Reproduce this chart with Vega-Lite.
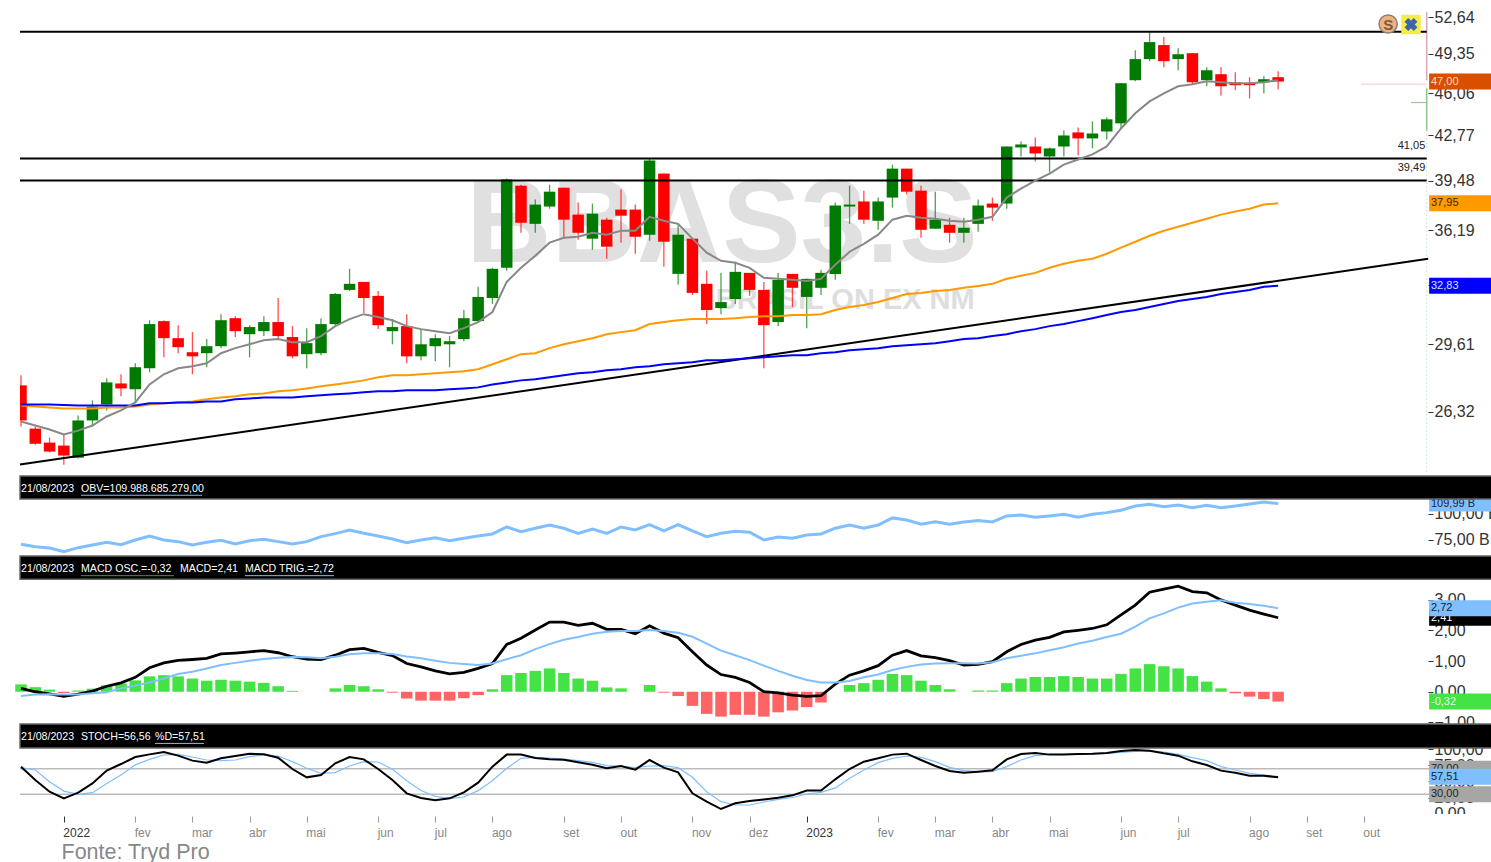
{"$schema":"https://vega.github.io/schema/vega-lite/v6.json","background":"white","padding":{"left":15,"top":0,"right":0,"bottom":0},"bounds":"flush","spacing":0,
"config":{"view":{"stroke":null},"axis":{"grid":false,"domain":false,"labelFont":"Liberation Sans","labelFontSize":16,"labelColor":"#333","tickColor":"#333","tickSize":5,"labelPadding":1,"labelOverlap":false,"labelFlush":false},"text":{"font":"Liberation Sans"}},
"datasets":{"weeks":[
{"w":0,"o":27.56,"h":28.05,"l":25.63,"c":25.91,"ma":25.86,"mo":26.6,"mb":26.65,"obv":70.9,"macd":0.11,"trig":-0.14,"osc":0.24,"st":73.2,"d":71.6},
{"w":1,"o":25.54,"h":25.63,"l":24.83,"c":24.87,"ma":25.68,"mo":26.55,"mb":26.65,"obv":68.6,"macd":0,"trig":-0.09,"osc":0.15,"st":52.3,"d":68},
{"w":2,"o":24.92,"h":25.14,"l":24.49,"c":24.53,"ma":25.5,"mo":26.51,"mb":26.65,"obv":67.3,"macd":-0.07,"trig":-0.08,"osc":0.07,"st":34,"d":49.7},
{"w":3,"o":24.79,"h":25.32,"l":23.97,"c":24.36,"ma":25.28,"mo":26.46,"mb":26.62,"obv":63.8,"macd":-0.15,"trig":-0.09,"osc":-0.04,"st":23.7,"d":35},
{"w":4,"o":24.27,"h":26.14,"l":24.23,"c":25.91,"ma":25.45,"mo":26.46,"mb":26.6,"obv":67.6,"macd":-0.08,"trig":-0.09,"osc":0.04,"st":32.6,"d":30},
{"w":5,"o":25.91,"h":26.84,"l":25.63,"c":26.55,"ma":25.68,"mo":26.46,"mb":26.6,"obv":70.2,"macd":0.02,"trig":-0.05,"osc":0.1,"st":47,"d":32.6},
{"w":6,"o":26.65,"h":27.9,"l":26.37,"c":27.7,"ma":26.09,"mo":26.51,"mb":26.6,"obv":72.8,"macd":0.18,"trig":-0.02,"osc":0.21,"st":67,"d":47},
{"w":7,"o":27.65,"h":28.1,"l":27.03,"c":27.41,"ma":26.37,"mo":26.51,"mb":26.6,"obv":70.5,"macd":0.29,"trig":0.11,"osc":0.27,"st":77.3,"d":60},
{"w":8,"o":27.37,"h":28.65,"l":26.7,"c":28.45,"ma":26.74,"mo":26.55,"mb":26.6,"obv":75,"macd":0.47,"trig":0.2,"osc":0.37,"st":88.3,"d":76},
{"w":9,"o":28.4,"h":30.9,"l":28.2,"c":30.69,"ma":27.6,"mo":26.65,"mb":26.7,"obv":78.8,"macd":0.78,"trig":0.3,"osc":0.5,"st":92.4,"d":84.6},
{"w":10,"o":30.85,"h":30.9,"l":28.95,"c":29.94,"ma":28.1,"mo":26.7,"mb":26.7,"obv":75,"macd":0.94,"trig":0.43,"osc":0.54,"st":96,"d":91.4},
{"w":11,"o":29.94,"h":30.63,"l":29.16,"c":29.47,"ma":28.4,"mo":26.74,"mb":26.74,"obv":73.4,"macd":1.02,"trig":0.58,"osc":0.5,"st":90.4,"d":92.4},
{"w":12,"o":29.21,"h":30.26,"l":28.1,"c":29,"ma":28.5,"mo":26.79,"mb":26.74,"obv":70.2,"macd":1.05,"trig":0.65,"osc":0.43,"st":82.6,"d":88.3},
{"w":13,"o":29.16,"h":29.89,"l":28.45,"c":29.52,"ma":28.65,"mo":26.89,"mb":26.79,"obv":72.8,"macd":1.09,"trig":0.76,"osc":0.36,"st":79.4,"d":83.6},
{"w":14,"o":29.52,"h":31.23,"l":29.42,"c":30.9,"ma":29.16,"mo":26.98,"mb":26.79,"obv":74.7,"macd":1.23,"trig":0.87,"osc":0.39,"st":86.2,"d":82.6},
{"w":15,"o":31.01,"h":31.12,"l":30,"c":30.31,"ma":29.42,"mo":27.03,"mb":26.89,"obv":71.2,"macd":1.26,"trig":0.94,"osc":0.36,"st":89.8,"d":83.6},
{"w":16,"o":30.15,"h":30.63,"l":28.95,"c":30.53,"ma":29.62,"mo":27.13,"mb":26.93,"obv":74.3,"macd":1.3,"trig":1.01,"osc":0.33,"st":93.5,"d":88.8},
{"w":17,"o":30.31,"h":31.12,"l":30.05,"c":30.8,"ma":29.83,"mo":27.17,"mb":26.98,"obv":75.7,"macd":1.34,"trig":1.07,"osc":0.29,"st":92.4,"d":91.4},
{"w":18,"o":30.8,"h":32.13,"l":29.94,"c":30.05,"ma":29.89,"mo":27.27,"mb":26.98,"obv":73.4,"macd":1.27,"trig":1.11,"osc":0.18,"st":87.2,"d":89.8},
{"w":19,"o":30,"h":30.58,"l":28.9,"c":29,"ma":29.73,"mo":27.32,"mb":26.98,"obv":71.2,"macd":1.14,"trig":1.13,"osc":0.03,"st":69.5,"d":81},
{"w":20,"o":29.11,"h":30.47,"l":28.4,"c":29.68,"ma":29.73,"mo":27.41,"mb":27.03,"obv":73.4,"macd":1.06,"trig":1.12,"osc":0,"st":56.5,"d":70.6},
{"w":21,"o":29.16,"h":31.01,"l":29.06,"c":30.69,"ma":30.05,"mo":27.51,"mb":27.08,"obv":78.2,"macd":1.05,"trig":1.09,"osc":0,"st":60.2,"d":62.8},
{"w":22,"o":30.69,"h":32.42,"l":30.63,"c":32.36,"ma":30.58,"mo":27.6,"mb":27.13,"obv":81.1,"macd":1.19,"trig":1.14,"osc":0.11,"st":78.4,"d":64},
{"w":23,"o":32.59,"h":33.82,"l":32.53,"c":32.94,"ma":30.96,"mo":27.7,"mb":27.17,"obv":84.6,"macd":1.37,"trig":1.22,"osc":0.22,"st":88.3,"d":74.2},
{"w":24,"o":33.05,"h":33.05,"l":31.29,"c":32.13,"ma":31.23,"mo":27.8,"mb":27.22,"obv":81.4,"macd":1.41,"trig":1.25,"osc":0.18,"st":84.6,"d":81},
{"w":25,"o":32.25,"h":32.53,"l":30.42,"c":30.63,"ma":31.07,"mo":27.95,"mb":27.27,"obv":78.8,"macd":1.28,"trig":1.25,"osc":0.08,"st":69.5,"d":80.5},
{"w":26,"o":30.31,"h":30.96,"l":29.62,"c":30.53,"ma":30.9,"mo":28.05,"mb":27.27,"obv":76,"macd":1.18,"trig":1.23,"osc":-0.03,"st":52.3,"d":69},
{"w":27,"o":30.58,"h":31.23,"l":28.65,"c":29,"ma":30.58,"mo":28.05,"mb":27.32,"obv":72.4,"macd":0.92,"trig":1.15,"osc":-0.22,"st":31.5,"d":51.3},
{"w":28,"o":29,"h":30.42,"l":28.8,"c":29.62,"ma":30.42,"mo":28.1,"mb":27.32,"obv":75,"macd":0.81,"trig":1.09,"osc":-0.29,"st":24.2,"d":36},
{"w":29,"o":29.52,"h":30.15,"l":28.75,"c":29.94,"ma":30.31,"mo":28.15,"mb":27.32,"obv":77.2,"macd":0.68,"trig":1.01,"osc":-0.29,"st":20.6,"d":26.8},
{"w":30,"o":29.62,"h":30.05,"l":28.45,"c":29.78,"ma":30.2,"mo":28.2,"mb":27.37,"obv":74.3,"macd":0.58,"trig":0.94,"osc":-0.29,"st":23.7,"d":23.2},
{"w":31,"o":29.89,"h":31.46,"l":29.78,"c":31.01,"ma":30.47,"mo":28.25,"mb":27.41,"obv":76.6,"macd":0.63,"trig":0.9,"osc":-0.21,"st":33,"d":25.8},
{"w":32,"o":30.85,"h":32.77,"l":30.8,"c":32.19,"ma":30.8,"mo":28.35,"mb":27.46,"obv":78.8,"macd":0.76,"trig":0.87,"osc":-0.11,"st":48.2,"d":35.7},
{"w":33,"o":32.13,"h":33.88,"l":31.79,"c":33.82,"ma":31.35,"mo":28.6,"mb":27.6,"obv":80.8,"macd":0.92,"trig":0.92,"osc":0.08,"st":73.2,"d":51.3},
{"w":34,"o":33.88,"h":39.63,"l":33.7,"c":39.56,"ma":33.05,"mo":28.85,"mb":27.7,"obv":87.5,"macd":1.54,"trig":1.06,"osc":0.54,"st":92,"d":70.6},
{"w":35,"o":39.14,"h":39.21,"l":36.03,"c":36.67,"ma":33.88,"mo":29.11,"mb":27.8,"obv":83,"macd":1.74,"trig":1.19,"osc":0.61,"st":92,"d":86.2},
{"w":36,"o":36.6,"h":38.2,"l":36.03,"c":37.86,"ma":34.61,"mo":29.16,"mb":27.85,"obv":86.3,"macd":2.01,"trig":1.39,"osc":0.68,"st":86.7,"d":87.8},
{"w":37,"o":37.73,"h":39.21,"l":37.59,"c":38.73,"ma":35.41,"mo":29.42,"mb":27.95,"obv":89.4,"macd":2.27,"trig":1.55,"osc":0.76,"st":84.6,"d":86.7},
{"w":38,"o":39,"h":39,"l":35.66,"c":36.87,"ma":35.72,"mo":29.62,"mb":28.05,"obv":86.3,"macd":2.27,"trig":1.69,"osc":0.61,"st":84,"d":85},
{"w":39,"o":37.2,"h":38,"l":35.59,"c":36.03,"ma":35.78,"mo":29.78,"mb":28.15,"obv":81.4,"macd":2.16,"trig":1.78,"osc":0.43,"st":80,"d":82.6},
{"w":40,"o":35.66,"h":37.93,"l":34.97,"c":37.26,"ma":36.03,"mo":29.94,"mb":28.2,"obv":85.6,"macd":2.23,"trig":1.89,"osc":0.36,"st":76.3,"d":80},
{"w":41,"o":36.87,"h":37,"l":34.42,"c":35.16,"ma":35.91,"mo":30.15,"mb":28.3,"obv":81.4,"macd":2.03,"trig":1.95,"osc":0.14,"st":70.6,"d":74.7},
{"w":42,"o":37.53,"h":38.87,"l":35.41,"c":37.13,"ma":36.16,"mo":30.26,"mb":28.35,"obv":87.5,"macd":2.03,"trig":1.98,"osc":0.11,"st":74.2,"d":73.7},
{"w":43,"o":37.53,"h":37.86,"l":34.73,"c":35.78,"ma":36.16,"mo":30.36,"mb":28.45,"obv":84.6,"macd":1.89,"trig":1.98,"osc":0,"st":68.5,"d":71.6},
{"w":44,"o":35.91,"h":41.05,"l":35.53,"c":40.91,"ma":37.06,"mo":30.69,"mb":28.5,"obv":89.7,"macd":2.15,"trig":2.01,"osc":0.22,"st":83.6,"d":74.2},
{"w":45,"o":39.98,"h":39.98,"l":33.94,"c":35.47,"ma":36.8,"mo":30.8,"mb":28.6,"obv":83.7,"macd":1.91,"trig":1.98,"osc":-0.03,"st":71.6,"d":74.7},
{"w":46,"o":33.52,"h":36.6,"l":32.88,"c":35.91,"ma":36.6,"mo":30.9,"mb":28.65,"obv":89.7,"macd":1.76,"trig":1.92,"osc":-0.14,"st":64.3,"d":71.6},
{"w":47,"o":35.66,"h":35.66,"l":32.3,"c":32.42,"ma":35.66,"mo":30.96,"mb":28.7,"obv":83.7,"macd":1.3,"trig":1.79,"osc":-0.46,"st":31.5,"d":56.5},
{"w":48,"o":32.94,"h":33.7,"l":30.69,"c":31.46,"ma":34.79,"mo":30.96,"mb":28.8,"obv":78.2,"macd":0.87,"trig":1.57,"osc":-0.72,"st":18.5,"d":34},
{"w":49,"o":31.57,"h":33.58,"l":31.23,"c":31.9,"ma":34.3,"mo":30.96,"mb":28.8,"obv":81.4,"macd":0.56,"trig":1.34,"osc":-0.81,"st":7,"d":18.5},
{"w":50,"o":32.07,"h":34.24,"l":31.79,"c":33.64,"ma":34.18,"mo":31.01,"mb":28.85,"obv":83.4,"macd":0.47,"trig":1.19,"osc":-0.75,"st":15.9,"d":13.3},
{"w":51,"o":33.58,"h":33.58,"l":32.25,"c":32.59,"ma":33.88,"mo":31.07,"mb":28.9,"obv":82.4,"macd":0.3,"trig":1.03,"osc":-0.75,"st":19.5,"d":13.3},
{"w":52,"o":32.59,"h":33.05,"l":28.4,"c":30.63,"ma":33.29,"mo":31.12,"mb":28.95,"obv":75,"macd":0,"trig":0.85,"osc":-0.81,"st":22,"d":18},
{"w":53,"o":30.8,"h":33.58,"l":30.58,"c":33.17,"ma":33.23,"mo":31.12,"mb":29,"obv":77.9,"macd":-0.04,"trig":0.68,"osc":-0.67,"st":24.7,"d":22},
{"w":54,"o":33.52,"h":33.52,"l":31.62,"c":32.71,"ma":33.17,"mo":31.18,"mb":29.06,"obv":76.6,"macd":-0.11,"trig":0.52,"osc":-0.61,"st":28.4,"d":25},
{"w":55,"o":32.19,"h":33.23,"l":30.47,"c":33.23,"ma":33.11,"mo":31.18,"mb":29.06,"obv":79.8,"macd":-0.15,"trig":0.38,"osc":-0.5,"st":36,"d":30.5},
{"w":56,"o":32.71,"h":33.76,"l":32.3,"c":33.58,"ma":33.23,"mo":31.23,"mb":29.16,"obv":80.8,"macd":-0.13,"trig":0.3,"osc":-0.35,"st":36,"d":33},
{"w":57,"o":33.52,"h":38,"l":33.17,"c":37.8,"ma":34.06,"mo":31.46,"mb":29.21,"obv":86.3,"macd":0.25,"trig":0.3,"osc":0,"st":53.4,"d":40},
{"w":58,"o":37.73,"h":39.14,"l":36.6,"c":37.86,"ma":34.85,"mo":31.62,"mb":29.31,"obv":89.4,"macd":0.54,"trig":0.35,"osc":0.22,"st":69.5,"d":55},
{"w":59,"o":38.07,"h":38.8,"l":36.6,"c":36.87,"ma":35.34,"mo":31.74,"mb":29.36,"obv":86.3,"macd":0.68,"trig":0.47,"osc":0.28,"st":81,"d":68},
{"w":60,"o":36.8,"h":38.33,"l":36.22,"c":38.07,"ma":35.91,"mo":31.9,"mb":29.42,"obv":89.4,"macd":0.85,"trig":0.56,"osc":0.39,"st":86.2,"d":79.4},
{"w":61,"o":38.33,"h":40.62,"l":37.66,"c":40.33,"ma":36.87,"mo":32.13,"mb":29.52,"obv":96.2,"macd":1.19,"trig":0.71,"osc":0.58,"st":92,"d":86.2},
{"w":62,"o":40.33,"h":40.33,"l":38.53,"c":38.73,"ma":37.13,"mo":32.36,"mb":29.57,"obv":94.2,"macd":1.34,"trig":0.81,"osc":0.54,"st":93.5,"d":89.8},
{"w":63,"o":38.8,"h":39.14,"l":35.72,"c":36.22,"ma":37,"mo":32.42,"mb":29.62,"obv":90.1,"macd":1.17,"trig":0.89,"osc":0.36,"st":83.6,"d":87.8},
{"w":64,"o":36.29,"h":38.73,"l":36.29,"c":36.87,"ma":36.93,"mo":32.53,"mb":29.68,"obv":92.6,"macd":1.11,"trig":0.92,"osc":0.22,"st":74.2,"d":81},
{"w":65,"o":36.54,"h":37,"l":35.41,"c":36.03,"ma":36.8,"mo":32.59,"mb":29.78,"obv":90.1,"macd":1.01,"trig":0.93,"osc":0.08,"st":66.4,"d":72},
{"w":66,"o":36.03,"h":37,"l":35.41,"c":36.35,"ma":36.73,"mo":32.71,"mb":29.89,"obv":92.3,"macd":0.87,"trig":0.93,"osc":0,"st":63.8,"d":67},
{"w":67,"o":36.6,"h":38.2,"l":36.1,"c":37.8,"ma":36.87,"mo":32.82,"mb":29.94,"obv":93.8,"macd":0.89,"trig":0.92,"osc":0.04,"st":65.4,"d":65.4},
{"w":68,"o":37.93,"h":38.33,"l":36.8,"c":37.66,"ma":37.06,"mo":32.94,"mb":30.05,"obv":92.3,"macd":0.98,"trig":0.96,"osc":0.04,"st":67.4,"d":65.4},
{"w":69,"o":37.93,"h":41.93,"l":37.59,"c":41.93,"ma":38.33,"mo":33.23,"mb":30.15,"obv":98.1,"macd":1.3,"trig":1.09,"osc":0.28,"st":84.6,"d":73.2},
{"w":70,"o":41.86,"h":42.3,"l":41.2,"c":42.08,"ma":38.94,"mo":33.41,"mb":30.31,"obv":99,"macd":1.54,"trig":1.17,"osc":0.43,"st":93,"d":83.6},
{"w":71,"o":41.93,"h":42.6,"l":40.84,"c":41.42,"ma":39.49,"mo":33.58,"mb":30.42,"obv":96.8,"macd":1.68,"trig":1.25,"osc":0.48,"st":94.5,"d":90.4},
{"w":72,"o":41.2,"h":41.86,"l":40.05,"c":41.79,"ma":39.98,"mo":33.88,"mb":30.58,"obv":98.1,"macd":1.77,"trig":1.35,"osc":0.48,"st":92,"d":92.4},
{"w":73,"o":41.93,"h":43.13,"l":41.2,"c":42.75,"ma":40.62,"mo":34.12,"mb":30.69,"obv":99.7,"macd":1.95,"trig":1.45,"osc":0.51,"st":92,"d":92.4},
{"w":74,"o":42.98,"h":43.36,"l":41.27,"c":42.53,"ma":40.98,"mo":34.3,"mb":30.85,"obv":96.8,"macd":2,"trig":1.57,"osc":0.48,"st":93,"d":92.4},
{"w":75,"o":42.53,"h":43.82,"l":41.79,"c":42.9,"ma":41.35,"mo":34.42,"mb":31.01,"obv":99.7,"macd":2.06,"trig":1.66,"osc":0.43,"st":93.5,"d":93},
{"w":76,"o":43.05,"h":44.13,"l":42.45,"c":43.98,"ma":41.93,"mo":34.73,"mb":31.18,"obv":101.3,"macd":2.18,"trig":1.78,"osc":0.43,"st":94.5,"d":94},
{"w":77,"o":43.67,"h":46.86,"l":43.28,"c":46.86,"ma":43.28,"mo":35.1,"mb":31.35,"obv":103.6,"macd":2.5,"trig":1.89,"osc":0.58,"st":97.7,"d":95.6},
{"w":78,"o":47.11,"h":49.66,"l":47.03,"c":48.89,"ma":44.45,"mo":35.47,"mb":31.46,"obv":107.7,"macd":2.82,"trig":2.12,"osc":0.76,"st":99.2,"d":97},
{"w":79,"o":48.89,"h":51.27,"l":48.71,"c":50.37,"ma":45.39,"mo":35.84,"mb":31.62,"obv":109.3,"macd":3.24,"trig":2.39,"osc":0.9,"st":98.2,"d":97.7},
{"w":80,"o":50.11,"h":50.82,"l":48.19,"c":48.71,"ma":46.03,"mo":36.16,"mb":31.79,"obv":107,"macd":3.34,"trig":2.55,"osc":0.83,"st":94,"d":96},
{"w":81,"o":48.89,"h":49.84,"l":47.94,"c":49.31,"ma":46.61,"mo":36.41,"mb":31.96,"obv":108.7,"macd":3.44,"trig":2.74,"osc":0.76,"st":90.4,"d":92.4},
{"w":82,"o":49.4,"h":49.4,"l":46.78,"c":46.94,"ma":46.78,"mo":36.67,"mb":32.07,"obv":106.1,"macd":3.26,"trig":2.87,"osc":0.51,"st":81.5,"d":87.2},
{"w":83,"o":47.11,"h":48.19,"l":46.61,"c":47.94,"ma":47.03,"mo":36.93,"mb":32.19,"obv":108.4,"macd":3.22,"trig":2.93,"osc":0.33,"st":75.8,"d":82.6},
{"w":84,"o":47.61,"h":48.19,"l":45.87,"c":46.61,"ma":46.94,"mo":37.2,"mb":32.36,"obv":106.1,"macd":2.99,"trig":2.98,"osc":0.11,"st":67,"d":73.2},
{"w":85,"o":46.94,"h":47.77,"l":46.28,"c":46.7,"ma":46.86,"mo":37.4,"mb":32.47,"obv":107.7,"macd":2.82,"trig":2.9,"osc":-0.05,"st":63.8,"d":68},
{"w":86,"o":46.86,"h":47.36,"l":45.63,"c":46.7,"ma":46.86,"mo":37.59,"mb":32.59,"obv":109.6,"macd":2.66,"trig":2.86,"osc":-0.16,"st":59,"d":62.8},
{"w":87,"o":46.94,"h":47.44,"l":46.04,"c":47.19,"ma":46.94,"mo":37.86,"mb":32.77,"obv":111.5,"macd":2.53,"trig":2.8,"osc":-0.24,"st":59,"d":60.2},
{"w":88,"o":47.36,"h":47.85,"l":46.36,"c":47,"ma":47.11,"mo":37.95,"mb":32.83,"obv":109.99,"macd":2.41,"trig":2.72,"osc":-0.32,"st":56.56,"d":57.51}
]},
"vconcat":[
{"width":1471,"height":476,"encoding":{"x":{"field":"w","type":"quantitative","scale":{"domain":[-0.07,102.9],"nice":false,"zero":false,"padding":0},"axis":null},"y":{"field":"p","type":"quantitative","title":null,"scale":{"type":"log","domain":[23.5,54.24],"nice":false},"axis":{"title":null,"orient":"right","offset":-63,"values":[52.64,49.35,46.06,42.77,39.48,36.19,32.9,29.61,26.32],"labelExpr":"replace(format(datum.value,'.2f'),'.',',')"}}},
"layer":[
{"data":{"values":[{"w":49.07,"p":36.41,"t":"BBAS3.S"}]},"mark":{"type":"text","fontSize":118,"fontWeight":"bold","color":"#e0e0e0","align":"center","baseline":"middle"},"encoding":{"text":{"field":"t"}}},
{"data":{"values":[{"w":57.7,"p":32,"t":"BRASIL ON EX NM"}]},"mark":{"type":"text","fontSize":29,"fontWeight":"bold","color":"#dedede","align":"center","baseline":"middle"},"encoding":{"text":{"field":"t"}}},
{"data":{"values":[{"w":98.4,"p":53.1,"b":47.11}]},"mark":{"type":"rule","color":"#d8a8b4","strokeWidth":1.5},"encoding":{"y2":{"field":"b"}}},
{"data":{"values":[{"w":98.4,"p":46.44,"b":43.13}]},"mark":{"type":"rule","color":"#8cc48c","strokeWidth":1.5},"encoding":{"y2":{"field":"b"}}},
{"data":{"values":[{"w":98.4,"p":43.13,"b":23.6}]},"mark":{"type":"rule","color":"#a8d8a8","strokeWidth":1.2,"strokeDash":[1,3]},"encoding":{"y2":{"field":"b"}}},
{"data":{"values":[{"w":93.8,"w2":98.4,"p":46.78}]},"mark":{"type":"rule","color":"#f8dfe4","strokeWidth":2},"encoding":{"x2":{"field":"w2"}}},
{"data":{"values":[{"w":97.3,"w2":98.4,"p":45.29}]},"mark":{"type":"rule","color":"#8cc48c","strokeWidth":1},"encoding":{"x2":{"field":"w2"}}},
{"data":{"name":"weeks"},"mark":{"type":"rule","strokeWidth":1.3,"opacity":0.7,"clip":true},"encoding":{"y":{"field":"l","type":"quantitative"},"y2":{"field":"h"},"color":{"condition":{"test":"datum.c>=datum.o","value":"#007a00"},"value":"#ff0000"}}},
{"data":{"name":"weeks"},"mark":{"type":"bar","size":11.5,"orient":"vertical","clip":true},"encoding":{"y":{"field":"o","type":"quantitative"},"y2":{"field":"c"},"color":{"condition":{"test":"datum.c>=datum.o","value":"#007a00"},"value":"#ff0000"}}},
{"data":{"values":[{"w":-0.07,"w2":98.4,"p":51.3},{"w":-0.07,"w2":98.4,"p":41.05},{"w":-0.07,"w2":98.4,"p":39.49}]},"mark":{"type":"rule","color":"#000","strokeWidth":2},"encoding":{"x2":{"field":"w2"}}},
{"data":{"values":[{"w":-0.07,"p":23.98},{"w":98.5,"p":34.42}]},"mark":{"type":"line","color":"#000","strokeWidth":2}},
{"data":{"name":"weeks"},"mark":{"type":"line","color":"#ff9900","strokeWidth":2},"encoding":{"y":{"field":"mo","type":"quantitative"}}},
{"data":{"name":"weeks"},"mark":{"type":"line","color":"#0000ff","strokeWidth":2},"encoding":{"y":{"field":"mb","type":"quantitative"}}},
{"data":{"name":"weeks"},"mark":{"type":"line","color":"#888888","strokeWidth":2},"encoding":{"y":{"field":"ma","type":"quantitative"}}},
{"data":{"values":[{"w":98.3,"p":42.0,"t":"41,05"},{"w":98.3,"p":40.4,"t":"39,49"}]},"mark":{"type":"text","fontSize":11,"color":"#222","align":"right","baseline":"middle"},"encoding":{"text":{"field":"t"}}},
{"data":{"values":[{"w":98.57,"w2":103,"p":47,"n":"c"},{"w":98.57,"w2":103,"p":37.95,"n":"o"},{"w":98.57,"w2":103,"p":32.83,"n":"b"}]},"mark":{"type":"rule","strokeWidth":16},"encoding":{"x2":{"field":"w2"},"color":{"field":"n","type":"nominal","legend":null,"scale":{"domain":["c","o","b"],"range":["#d94f00","#ff9900","#0000ff"]}}}},
{"data":{"values":[{"w":98.7,"p":47,"t":"47,00"},{"w":98.7,"p":37.95,"t":"37,95"},{"w":98.7,"p":32.83,"t":"32,83"}]},"mark":{"type":"text","fontSize":11,"align":"left","baseline":"middle"},"encoding":{"text":{"field":"t"},"fill":{"field":"t","type":"nominal","legend":null,"scale":{"domain":["47,00","37,95","32,83"],"range":["#f8dcc4","#3a2400","#dde2ff"]}}}},
{"data":{"values":[{"w":95.7,"p":52}]},"mark":{"type":"point","shape":"circle","filled":true,"size":330,"color":"#eeb27e","stroke":"#8c8070","strokeWidth":1.5,"opacity":1}},
{"data":{"values":[{"w":95.7,"p":51.95,"t":"S"}]},"mark":{"type":"text","fontSize":15,"fontWeight":"bold","color":"#7a5a3c","align":"center","baseline":"middle"},"encoding":{"text":{"field":"t"}}},
{"data":{"values":[{"w":97.3,"p":51.95}]},"mark":{"type":"point","shape":"square","filled":true,"size":380,"color":"#f5ec45","opacity":1}},
{"data":{"values":[{"w":97.3,"p":51.95}]},"mark":{"type":"point","shape":"cross","filled":true,"size":170,"color":"#3a66b0","angle":45,"opacity":1}}
]},
{"width":1471,"height":80,"encoding":{"x":{"field":"w","type":"quantitative","scale":{"domain":[-0.07,102.9],"nice":false,"zero":false,"padding":0},"axis":null},"y":{"field":"v","type":"quantitative","scale":{"domain":[59.6,136.5],"nice":false,"zero":false},"axis":{"title":null,"orient":"right","offset":-63,"values":[100,75],"labelExpr":"replace(format(datum.value,'.2f'),'.',',')+' B'"}}},
"layer":[
{"data":{"values":[{"w":98.57,"w2":103,"v":109.99}]},"mark":{"type":"rule","strokeWidth":16,"color":"#7fbfff"},"encoding":{"x2":{"field":"w2"}}},
{"data":{"values":[{"w":98.7,"v":109.99,"t":"109,99 B"}]},"mark":{"type":"text","fontSize":11,"color":"#223","align":"left","baseline":"middle"},"encoding":{"text":{"field":"t"}}},
{"data":{"name":"weeks"},"mark":{"type":"line","color":"#7fbfff","strokeWidth":3},"encoding":{"y":{"field":"obv","type":"quantitative"}}},
{"data":{"values":[{"w":-0.07,"w2":103,"v":136.5,"b":114.4}]},"mark":{"type":"rect","color":"#000","stroke":"#666","strokeWidth":1.5},"encoding":{"x2":{"field":"w2"},"y2":{"field":"b"}}},
{"data":{"values":[{"w":0,"v":124,"t":"21/08/2023"},{"w":4.2,"v":124,"t":"OBV=109.988.685.279,00"}]},"mark":{"type":"text","fontSize":10.6,"color":"#fff","align":"left","baseline":"middle"},"encoding":{"text":{"field":"t"}}},
{"data":{"values":[{"w":4.2,"w2":12.67,"v":118}]},"mark":{"type":"rule","color":"#7fbfff","strokeWidth":1},"encoding":{"x2":{"field":"w2"}}}
]},
{"width":1471,"height":168,"encoding":{"x":{"field":"w","type":"quantitative","scale":{"domain":[-0.07,102.9],"nice":false,"zero":false,"padding":0},"axis":null},"y":{"field":"v","type":"quantitative","scale":{"domain":[-1.05,4.42],"nice":false,"zero":false},"axis":{"title":null,"orient":"right","offset":-63,"values":[3,2,1,0,-1],"labelExpr":"replace(format(datum.value,'.2f'),'.',',')"}}},
"layer":[
{"data":{"values":[{"w":98.57,"w2":103,"v":2.41}]},"mark":{"type":"rule","strokeWidth":16,"color":"#000"},"encoding":{"x2":{"field":"w2"}}},
{"data":{"values":[{"w":98.7,"v":2.41,"t":"2,41"}]},"mark":{"type":"text","fontSize":11,"color":"#fff","align":"left","baseline":"middle"},"encoding":{"text":{"field":"t"}}},
{"data":{"values":[{"w":98.57,"w2":103,"v":2.72}]},"mark":{"type":"rule","strokeWidth":16,"color":"#7fbfff"},"encoding":{"x2":{"field":"w2"}}},
{"data":{"values":[{"w":98.7,"v":2.72,"t":"2,72"}]},"mark":{"type":"text","fontSize":11,"color":"#123","align":"left","baseline":"middle"},"encoding":{"text":{"field":"t"}}},
{"data":{"values":[{"w":98.57,"w2":103,"v":-0.32}]},"mark":{"type":"rule","strokeWidth":16,"color":"#44e244"},"encoding":{"x2":{"field":"w2"}}},
{"data":{"values":[{"w":98.7,"v":-0.32,"t":"-0,32"}]},"mark":{"type":"text","fontSize":11,"color":"#e4ffe4","align":"left","baseline":"middle"},"encoding":{"text":{"field":"t"}}},
{"data":{"name":"weeks"},"mark":{"type":"bar","size":11.5,"orient":"vertical"},"encoding":{"y":{"field":"osc","type":"quantitative"},"y2":{"datum":0},"color":{"condition":{"test":"datum.osc>=0","value":"#44e244"},"value":"#ff6464"}}},
{"data":{"name":"weeks"},"mark":{"type":"line","color":"#000","strokeWidth":2.8},"encoding":{"y":{"field":"macd","type":"quantitative"}}},
{"data":{"name":"weeks"},"mark":{"type":"line","color":"#7fbfff","strokeWidth":2},"encoding":{"y":{"field":"trig","type":"quantitative"}}},
{"data":{"values":[{"w":-0.07,"w2":103,"v":4.42,"b":3.66}]},"mark":{"type":"rect","color":"#000","stroke":"#666","strokeWidth":1.5},"encoding":{"x2":{"field":"w2"},"y2":{"field":"b"}}},
{"data":{"values":[{"w":0,"v":4,"t":"21/08/2023"},{"w":4.2,"v":4,"t":"MACD OSC.=-0,32"},{"w":11.13,"v":4,"t":"MACD=2,41"},{"w":15.68,"v":4,"t":"MACD TRIG.=2,72"}]},"mark":{"type":"text","fontSize":10.6,"color":"#fff","align":"left","baseline":"middle"},"encoding":{"text":{"field":"t"}}},
{"data":{"values":[{"w":4.2,"w2":10.71,"v":3.78}]},"mark":{"type":"rule","color":"#22aa22","strokeWidth":1},"encoding":{"x2":{"field":"w2"}}},
{"data":{"values":[{"w":15.68,"w2":21.91,"v":3.78}]},"mark":{"type":"rule","color":"#7fbfff","strokeWidth":1},"encoding":{"x2":{"field":"w2"}}}
]},
{"width":1471,"height":90,"encoding":{"x":{"field":"w","type":"quantitative","scale":{"domain":[-0.07,102.9],"nice":false,"zero":false,"padding":0},"axis":{"offset":2,"tickSize":6,"values":[3,8,12,16,20,25,29,33,38,42,47,51,55,60,64,68,72,77,81,86,90,94],"labelExpr":"['2022','fev','mar','abr','mai','jun','jul','ago','set','out','nov','dez','2023','fev','mar','abr','mai','jun','jul','ago','set','out'][indexof([3,8,12,16,20,25,29,33,38,42,47,51,55,60,64,68,72,77,81,86,90,94],datum.value)]","labelFontSize":12,"labelAlign":"left","labelOffset":-1,"labelPadding":5,"labelColor":{"condition":{"test":"datum.value==3||datum.value==55","value":"#333333"},"value":"#888888"},"tickColor":{"condition":{"test":"datum.value==3||datum.value==55","value":"#333333"},"value":"#999999"},"title":"Fonte: Tryd Pro","titleFont":"Liberation Sans","titleFontSize":21.5,"titleFontWeight":"normal","titleColor":"#888888","titleAnchor":"start","titleAlign":"left","titleBaseline":"alphabetic","titleX":41,"titleY":42}},"y":{"field":"v","type":"quantitative","scale":{"domain":[-0.78,139.84],"nice":false,"zero":false},"axis":{"title":null,"orient":"right","offset":-63,"values":[100,75,50,25,0],"labelExpr":"replace(format(datum.value,'.2f'),'.',',')"}}},
"layer":[
{"data":{"values":[{"w":-0.07,"w2":98.6,"v":70},{"w":-0.07,"w2":98.6,"v":30}]},"mark":{"type":"rule","color":"#bbbbbb","strokeWidth":1.5},"encoding":{"x2":{"field":"w2"}}},
{"data":{"values":[{"w":98.57,"w2":103,"v":70},{"w":98.57,"w2":103,"v":30}]},"mark":{"type":"rule","strokeWidth":16,"color":"#a6a6a6"},"encoding":{"x2":{"field":"w2"}}},
{"data":{"values":[{"w":98.7,"v":70,"t":"70,00"},{"w":98.7,"v":30,"t":"30,00"}]},"mark":{"type":"text","fontSize":11,"color":"#222","align":"left","baseline":"middle"},"encoding":{"text":{"field":"t"}}},
{"data":{"values":[{"w":98.57,"w2":103,"v":57.51}]},"mark":{"type":"rule","strokeWidth":16,"color":"#7fbfff"},"encoding":{"x2":{"field":"w2"}}},
{"data":{"values":[{"w":98.7,"v":57.51,"t":"57,51"}]},"mark":{"type":"text","fontSize":11,"color":"#123","align":"left","baseline":"middle"},"encoding":{"text":{"field":"t"}}},
{"data":{"name":"weeks"},"mark":{"type":"line","color":"#7fbfff","strokeWidth":1.2},"encoding":{"y":{"field":"d","type":"quantitative"}}},
{"data":{"name":"weeks"},"mark":{"type":"line","color":"#000","strokeWidth":2},"encoding":{"y":{"field":"st","type":"quantitative"}}},
{"data":{"values":[{"w":-0.07,"w2":103,"v":139.84,"b":102.5}]},"mark":{"type":"rect","color":"#000","stroke":"#666","strokeWidth":1.5},"encoding":{"x2":{"field":"w2"},"y2":{"field":"b"}}},
{"data":{"values":[{"w":98.5,"w2":103,"v":-0.78,"b":-20}]},"mark":{"type":"rect","color":"#fff"},"encoding":{"x2":{"field":"w2"},"y2":{"field":"b"}}},
{"data":{"values":[{"w":0,"v":119.5,"t":"21/08/2023"},{"w":4.2,"v":119.5,"t":"STOCH=56,56"},{"w":9.38,"v":119.5,"t":"%D=57,51"}]},"mark":{"type":"text","fontSize":10.6,"color":"#fff","align":"left","baseline":"middle"},"encoding":{"text":{"field":"t"}}},
{"data":{"values":[{"w":9.38,"w2":12.81,"v":109.5}]},"mark":{"type":"rule","color":"#7fbfff","strokeWidth":1},"encoding":{"x2":{"field":"w2"}}}
]}
]}
